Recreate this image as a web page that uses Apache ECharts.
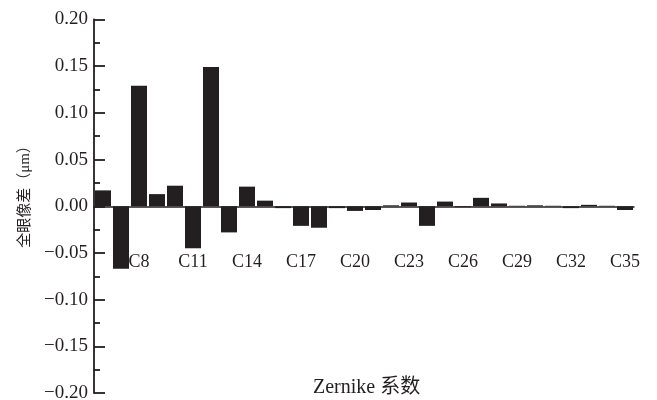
<!DOCTYPE html>
<html>
<head>
<meta charset="utf-8">
<script src="https://cdn.jsdelivr.net/npm/echarts@6/dist/echarts.min.js"></script>
<style>
  html, body { margin: 0; padding: 0; background: #fff; }
  #chart { width: 657px; height: 400px; }
</style>
</head>
<body>
<div id="chart"></div>
<script>
// Zernike 系数 C6 ~ C35
const categories = [
  'C6', 'C7', 'C8', 'C9', 'C10', 'C11', 'C12', 'C13', 'C14', 'C15',
  'C16', 'C17', 'C18', 'C19', 'C20', 'C21', 'C22', 'C23', 'C24', 'C25',
  'C26', 'C27', 'C28', 'C29', 'C30', 'C31', 'C32', 'C33', 'C34', 'C35'
]

// 全眼像差 (μm)
const aberration = [
  0.017, -0.067, 0.129, 0.013, 0.022, -0.045, 0.149, -0.028, 0.021, 0.006,
  -0.002, -0.021, -0.023, -0.002, -0.005, -0.004, 0.001, 0.004, -0.021, 0.005,
  -0.001, 0.009, 0.003, 0.0005, 0.001, 0.0005, -0.002, 0.0015, 0.0005, -0.004
]

const yMin = -0.2
const yMax = 0.2
const yStep = 0.05

const ink = '#231f20'
const font = '"Liberation Serif", "Noto Sans CJK SC", serif'

const chart = echarts.init(document.getElementById('chart'))

const option = {
  animation: false,
  grid: {
    left: 94,
    top: 19.5,
    width: 540,
    height: 373.5,
    containLabel: false,
    outerBoundsMode: 'none'
  },
  xAxis: {
    type: 'category',
    data: categories,
    axisLine: {
      onZero: true,
      lineStyle: { color: ink, width: 1.5 }
    },
    axisTick: { show: false },
    axisLabel: {
      interval: (idx) => idx % 3 === 2,
      // 标签画在 -0.05 附近
      margin: -140,
      color: ink,
      fontFamily: font,
      fontSize: 18
    },
    splitLine: { show: false }
  },
  yAxis: {
    type: 'value',
    min: yMin,
    max: yMax,
    interval: yStep,
    axisLine: {
      show: true,
      lineStyle: { color: ink, width: 1.8 }
    },
    axisTick: {
      show: true,
      inside: true,
      length: 11,
      lineStyle: { color: ink, width: 1.8 }
    },
    minorTick: {
      show: true,
      splitNumber: 2,
      length: 6,
      lineStyle: { color: ink, width: 1.8 }
    },
    axisLabel: {
      margin: 6,
      color: ink,
      fontFamily: font,
      fontSize: 19,
      formatter: (v) => {
        const s = Math.abs(v).toFixed(2)
        return v < -1e-9 ? '\u2212' + s : s
      }
    },
    splitLine: { show: false }
  },
  series: [
    {
      type: 'bar',
      data: aberration,
      barCategoryGap: '11%',
      itemStyle: { color: ink }
    }
  ],
  graphic: [
    {
      type: 'text',
      x: 25,
      y: 193,
      rotation: Math.PI / 2,
      style: {
        text: '全眼像差（μm）',
        fill: ink,
        font: '15px ' + font,
        align: 'center',
        verticalAlign: 'middle'
      }
    },
    {
      type: 'text',
      left: 313,
      top: 378,
      style: {
        text: 'Zernike 系数',
        fill: ink,
        font: '20px ' + font
      }
    }
  ]
}

chart.setOption(option)
</script>
</body>
</html>
